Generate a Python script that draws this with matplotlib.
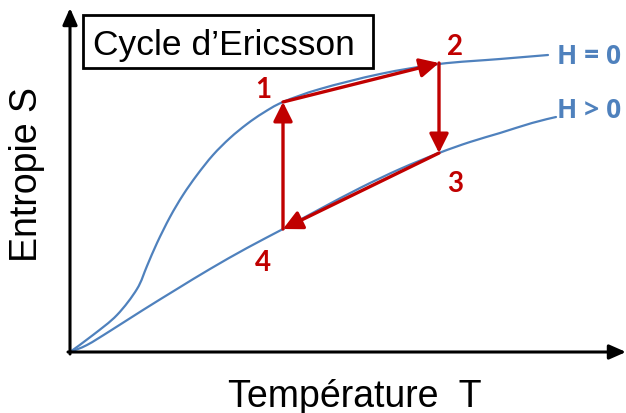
import matplotlib
matplotlib.use("Agg")
import matplotlib.pyplot as plt
from matplotlib.path import Path
from matplotlib.patches import PathPatch, Rectangle

# Data (T, S) (arbitrary units, origin at axes corner)
h0_T = [0, 23, 47, 67, 77, 87, 100, 113, 127, 143, 160, 177, 193, 213, 250, 310, 369, 430, 478]
h0_S = [0, 17, 37, 63, 86, 109, 135, 157, 177, 197, 214, 228, 239, 250, 263, 278, 288, 293, 297]
hp_T = [0, 17, 40, 73, 107, 140, 177, 213, 250, 290, 330, 369, 400, 430, 462, 486]
hp_S = [0, 7, 21, 42, 63, 83, 104, 123, 143, 164, 183, 199, 210, 219, 229, 235]
cycle_T = [213, 369, 369, 213]
cycle_S = [250, 289, 199, 123]
cycle_labels = ["1", "2", "3", "4"]
curve_labels = ["H = 0", "H > 0"]

blue = "#4F81BD"
red = "#C00000"


def smooth_path(xs, ys):
    """Catmull-Rom curve through the points, as cubic Bezier path segments."""
    pts = list(zip(xs, ys))
    verts = [pts[0]]
    codes = [Path.MOVETO]
    n = len(pts)
    for i in range(n - 1):
        p0 = pts[i - 1] if i > 0 else pts[i]
        p1 = pts[i]
        p2 = pts[i + 1]
        p3 = pts[i + 2] if i + 2 < n else pts[i + 1]
        c1 = (p1[0] + (p2[0] - p0[0]) / 6.0, p1[1] + (p2[1] - p0[1]) / 6.0)
        c2 = (p2[0] - (p3[0] - p1[0]) / 6.0, p2[1] - (p3[1] - p1[1]) / 6.0)
        verts += [c1, c2, p2]
        codes += [Path.CURVE4] * 3
    return Path(verts, codes)


fig = plt.figure(figsize=(6.26, 4.14), dpi=100)
ax = fig.add_axes([0, 0, 1, 1])
ax.set_xlim(-70, 556)
ax.set_ylim(-61, 353)
ax.axis("off")

# axes with arrows
ax.annotate("", xy=(556, 0), xytext=(-2, 0),
            arrowprops=dict(arrowstyle="-|>,head_length=0.5,head_width=0.22", mutation_scale=20,
                            lw=2.2, color="black", shrinkA=0, shrinkB=0))
ax.annotate("", xy=(0, 344), xytext=(0, -2),
            arrowprops=dict(arrowstyle="-|>,head_length=0.5,head_width=0.22", mutation_scale=20,
                            lw=2.2, color="black", shrinkA=0, shrinkB=0))

# curves
for xs, ys in ((h0_T, h0_S), (hp_T, hp_S)):
    ax.add_patch(PathPatch(smooth_path(xs, ys), fc="none", ec=blue, lw=1.6, capstyle="round"))

# cycle arrows
n = len(cycle_T)
for i in range(n):
    j = (i + 1) % n
    ax.annotate("", xy=(cycle_T[j], cycle_S[j]), xytext=(cycle_T[i], cycle_S[i]),
                arrowprops=dict(arrowstyle="-|>,head_length=0.58,head_width=0.29", mutation_scale=20,
                                lw=2.4, color=red, shrinkA=0, shrinkB=0))

# point labels
lab_off = [(-20, 13), (16, 17), (16, -30), (-20, -33)]
for t, s, l, (dx, dy) in zip(cycle_T, cycle_S, cycle_labels, lab_off):
    ax.text(t + dx, s + dy, l, color=red, fontsize=20, fontweight="bold",
            family="Lato", ha="center", va="center")

# curve labels
ax.text(487, 296, curve_labels[0], color=blue, fontsize=19, fontweight="bold",
        family="Open Sans", ha="left", va="center")
ax.text(487, 243, curve_labels[1], color=blue, fontsize=19, fontweight="bold",
        family="Open Sans", ha="left", va="center")

# title box
ax.add_patch(Rectangle((83 / 626, 1 - 69 / 414), 290 / 626, 53 / 414, transform=ax.transAxes,
                       fc="white", ec="black", lw=2))
ax.text(153.5, 298, "Cycle d\u2019Ericsson", fontsize=25.5, family="Liberation Sans",
        ha="center", va="baseline")

# axis labels
ax.text(285, -54, "Temp\u00e9rature  T", fontsize=27, family="Liberation Sans", ha="center", va="baseline")
ax.text(-43, 179, "Entropie S", fontsize=27, family="Liberation Sans", ha="center", va="center",
        rotation=90)

fig.savefig("out.png", dpi=100)
